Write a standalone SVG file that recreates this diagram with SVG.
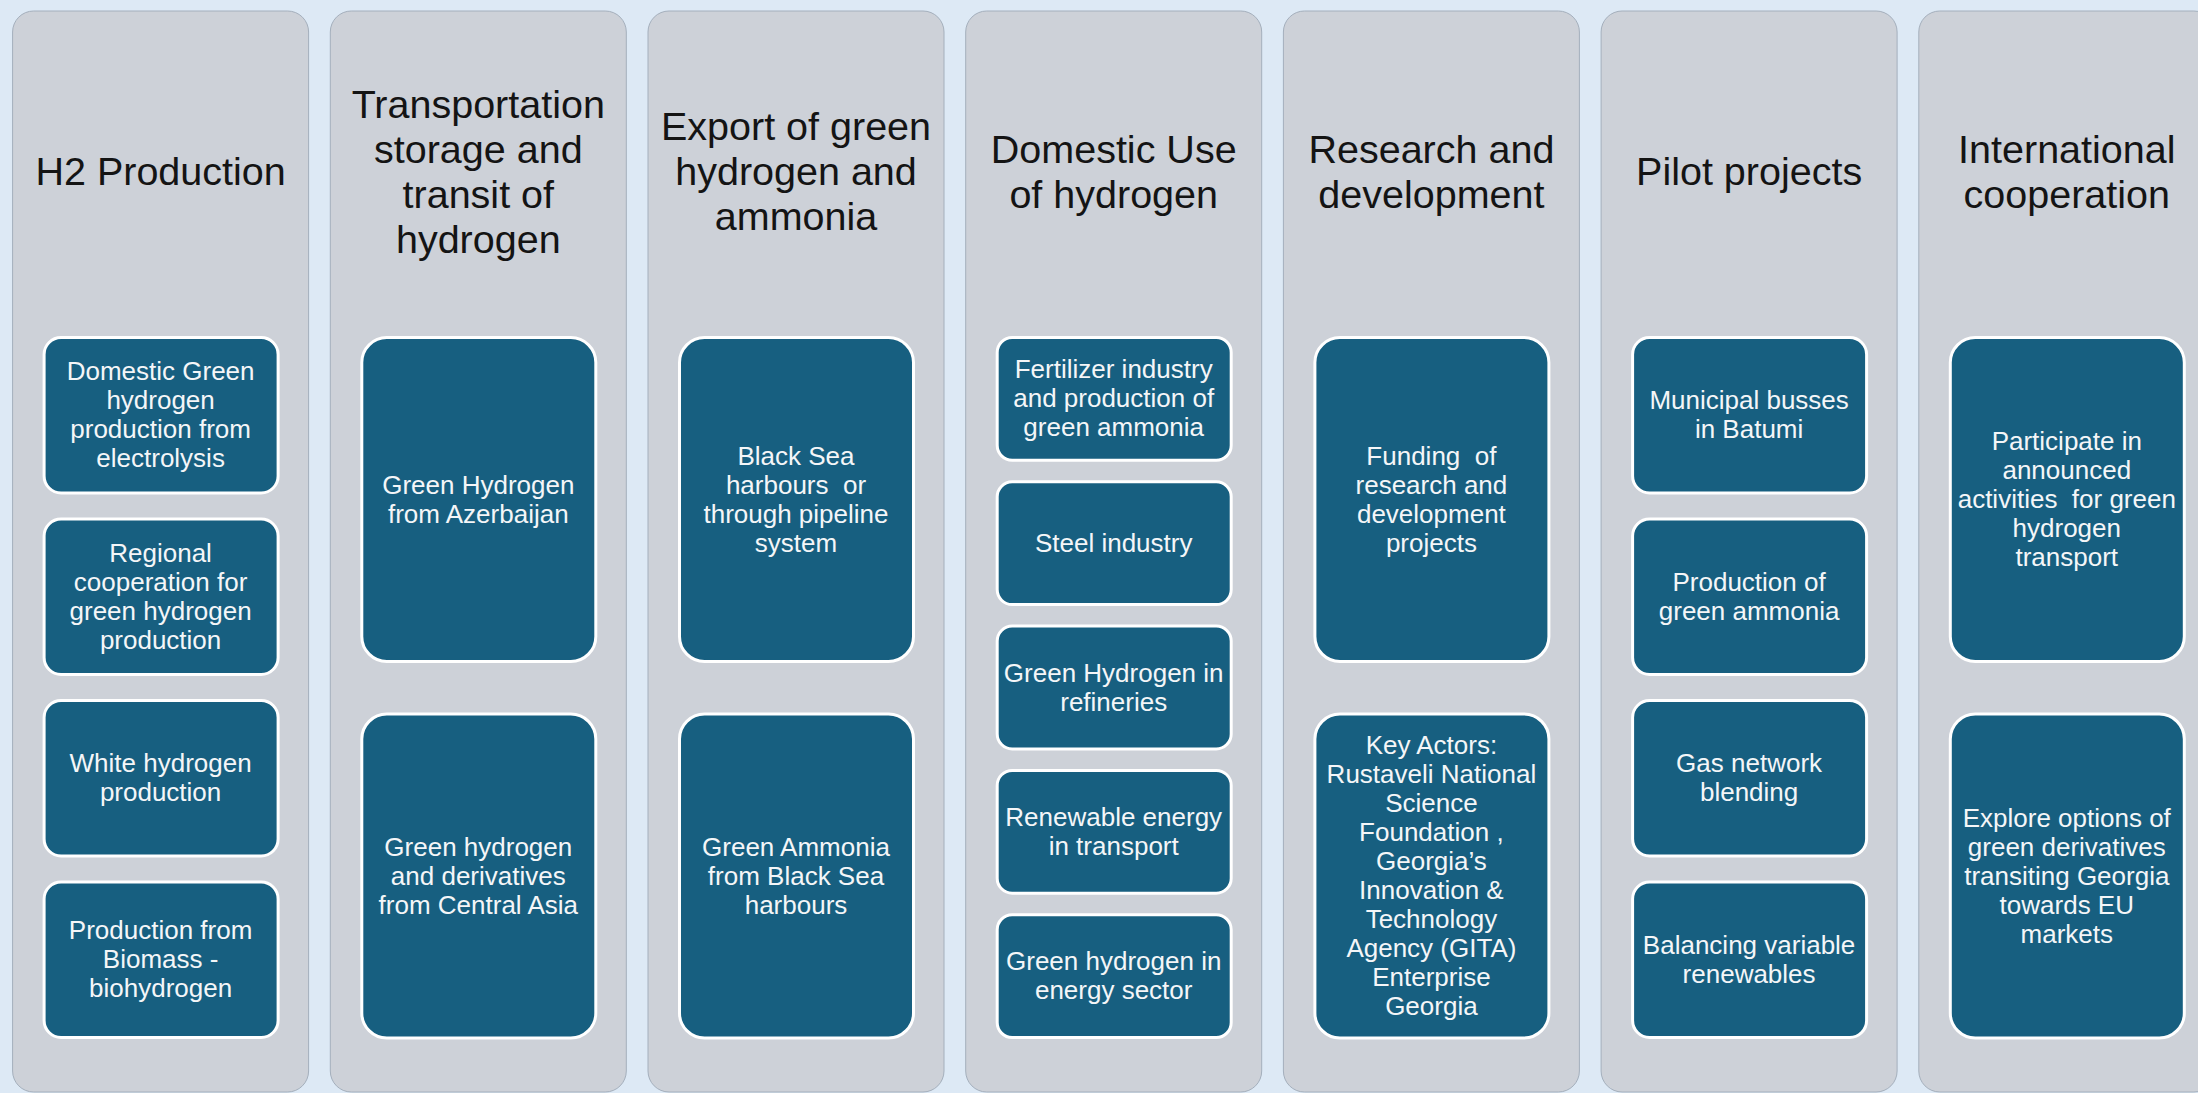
<svg xmlns="http://www.w3.org/2000/svg" width="2198" height="1093" viewBox="0 0 2198 1093">
  <style>
    .bg { fill: #dde9f5; }
    .col { fill: #cdd1d8; stroke: #a4afbc; stroke-width: 1; }
    .box { fill: #175f80; stroke: #ffffff; stroke-width: 3; }
    .head { font-family: "Liberation Sans", Arial, sans-serif; font-size: 39.5px; fill: #141414; text-anchor: middle; }
    .lbl { font-family: "Liberation Sans", Arial, sans-serif; font-size: 26px; fill: #f4f6f8; text-anchor: middle; }
  </style>

  <rect class="bg" x="0" y="0" width="2198" height="1093"/>

  <!-- Column 1: H2 Production -->
  <g id="col-h2-production">
    <rect class="col" x="12.6" y="11" width="296" height="1081" rx="21"/>
    <text class="head" x="160.6" y="185">H2 Production</text>
    <g id="h2-electrolysis">
      <rect class="box" x="44.1" y="337.5" width="234" height="155.5" rx="17"/>
      <text class="lbl" x="160.6" y="380.3"><tspan x="160.6">Domestic Green</tspan><tspan x="160.6" dy="29">hydrogen</tspan><tspan x="160.6" dy="29">production from</tspan><tspan x="160.6" dy="29">electrolysis</tspan></text>
    </g>
    <g id="h2-regional">
      <rect class="box" x="44.1" y="519" width="234" height="155.5" rx="17"/>
      <text class="lbl" x="160.6" y="561.8"><tspan x="160.6">Regional</tspan><tspan x="160.6" dy="29">cooperation for</tspan><tspan x="160.6" dy="29">green hydrogen</tspan><tspan x="160.6" dy="29">production</tspan></text>
    </g>
    <g id="h2-white">
      <rect class="box" x="44.1" y="700.5" width="234" height="155.5" rx="17"/>
      <text class="lbl" x="160.6" y="772.3"><tspan x="160.6">White hydrogen</tspan><tspan x="160.6" dy="29">production</tspan></text>
    </g>
    <g id="h2-biomass">
      <rect class="box" x="44.1" y="882" width="234" height="155.5" rx="17"/>
      <text class="lbl" x="160.6" y="939.3"><tspan x="160.6">Production from</tspan><tspan x="160.6" dy="29">Biomass -</tspan><tspan x="160.6" dy="29">biohydrogen</tspan></text>
    </g>
  </g>

  <!-- Column 2: Transportation, storage and transit -->
  <g id="col-transport">
    <rect class="col" x="330.3" y="11" width="296" height="1081" rx="21"/>
    <text class="head" x="478.3" y="117.5"><tspan x="478.3">Transportation</tspan><tspan x="478.3" dy="45">storage and</tspan><tspan x="478.3" dy="45">transit of</tspan><tspan x="478.3" dy="45">hydrogen</tspan></text>
    <g id="transport-azerbaijan">
      <rect class="box" x="361.8" y="337.5" width="234" height="324" rx="25"/>
      <text class="lbl" x="478.3" y="493.5"><tspan x="478.3">Green Hydrogen</tspan><tspan x="478.3" dy="29">from Azerbaijan</tspan></text>
    </g>
    <g id="transport-central-asia">
      <rect class="box" x="361.8" y="714" width="234" height="324" rx="25"/>
      <text class="lbl" x="478.3" y="855.5"><tspan x="478.3">Green hydrogen</tspan><tspan x="478.3" dy="29">and derivatives</tspan><tspan x="478.3" dy="29">from Central Asia</tspan></text>
    </g>
  </g>

  <!-- Column 3: Export -->
  <g id="col-export">
    <rect class="col" x="648" y="11" width="296" height="1081" rx="21"/>
    <text class="head" x="796" y="140"><tspan x="796">Export of green</tspan><tspan x="796" dy="45">hydrogen and</tspan><tspan x="796" dy="45">ammonia</tspan></text>
    <g id="export-black-sea">
      <rect class="box" x="679.5" y="337.5" width="234" height="324" rx="25"/>
      <text class="lbl" x="796" y="464.5"><tspan x="796">Black Sea</tspan><tspan x="796" dy="29">harbours&#160; or</tspan><tspan x="796" dy="29">through pipeline</tspan><tspan x="796" dy="29">system</tspan></text>
    </g>
    <g id="export-ammonia">
      <rect class="box" x="679.5" y="714" width="234" height="324" rx="25"/>
      <text class="lbl" x="796" y="855.5"><tspan x="796">Green Ammonia</tspan><tspan x="796" dy="29">from Black Sea</tspan><tspan x="796" dy="29">harbours</tspan></text>
    </g>
  </g>

  <!-- Column 4: Domestic use -->
  <g id="col-domestic-use">
    <rect class="col" x="965.7" y="11" width="296" height="1081" rx="21"/>
    <text class="head" x="1113.7" y="162.5"><tspan x="1113.7">Domestic Use</tspan><tspan x="1113.7" dy="45">of hydrogen</tspan></text>
    <g id="use-fertilizer">
      <rect class="box" x="997.2" y="337.5" width="234" height="122.8" rx="15"/>
      <text class="lbl" x="1113.7" y="378.4"><tspan x="1113.7">Fertilizer industry</tspan><tspan x="1113.7" dy="29">and production of</tspan><tspan x="1113.7" dy="29">green ammonia</tspan></text>
    </g>
    <g id="use-steel">
      <rect class="box" x="997.2" y="481.8" width="234" height="122.8" rx="15"/>
      <text class="lbl" x="1113.7" y="551.7">Steel industry</text>
    </g>
    <g id="use-refineries">
      <rect class="box" x="997.2" y="626.1" width="234" height="122.8" rx="15"/>
      <text class="lbl" x="1113.7" y="681.5"><tspan x="1113.7">Green Hydrogen in</tspan><tspan x="1113.7" dy="29">refineries</tspan></text>
    </g>
    <g id="use-transport">
      <rect class="box" x="997.2" y="770.4" width="234" height="122.8" rx="15"/>
      <text class="lbl" x="1113.7" y="825.8"><tspan x="1113.7">Renewable energy</tspan><tspan x="1113.7" dy="29">in transport</tspan></text>
    </g>
    <g id="use-energy">
      <rect class="box" x="997.2" y="914.7" width="234" height="122.8" rx="15"/>
      <text class="lbl" x="1113.7" y="970.1"><tspan x="1113.7">Green hydrogen in</tspan><tspan x="1113.7" dy="29">energy sector</tspan></text>
    </g>
  </g>

  <!-- Column 5: Research and development -->
  <g id="col-research">
    <rect class="col" x="1283.4" y="11" width="296" height="1081" rx="21"/>
    <text class="head" x="1431.4" y="162.5"><tspan x="1431.4">Research and</tspan><tspan x="1431.4" dy="45">development</tspan></text>
    <g id="research-funding">
      <rect class="box" x="1314.9" y="337.5" width="234" height="324" rx="25"/>
      <text class="lbl" x="1431.4" y="464.5"><tspan x="1431.4">Funding&#160; of</tspan><tspan x="1431.4" dy="29">research and</tspan><tspan x="1431.4" dy="29">development</tspan><tspan x="1431.4" dy="29">projects</tspan></text>
    </g>
    <g id="research-actors">
      <rect class="box" x="1314.9" y="714" width="234" height="324" rx="25"/>
      <text class="lbl" x="1431.4" y="754"><tspan x="1431.4">Key Actors:</tspan><tspan x="1431.4" dy="29">Rustaveli National</tspan><tspan x="1431.4" dy="29">Science</tspan><tspan x="1431.4" dy="29">Foundation ,</tspan><tspan x="1431.4" dy="29">Georgia’s</tspan><tspan x="1431.4" dy="29">Innovation &amp;</tspan><tspan x="1431.4" dy="29">Technology</tspan><tspan x="1431.4" dy="29">Agency (GITA)</tspan><tspan x="1431.4" dy="29">Enterprise</tspan><tspan x="1431.4" dy="29">Georgia</tspan></text>
    </g>
  </g>

  <!-- Column 6: Pilot projects -->
  <g id="col-pilot">
    <rect class="col" x="1601.1" y="11" width="296" height="1081" rx="21"/>
    <text class="head" x="1749.1" y="185">Pilot projects</text>
    <g id="pilot-busses">
      <rect class="box" x="1632.6" y="337.5" width="234" height="155.5" rx="17"/>
      <text class="lbl" x="1749.1" y="409.3"><tspan x="1749.1">Municipal busses</tspan><tspan x="1749.1" dy="29">in Batumi</tspan></text>
    </g>
    <g id="pilot-ammonia">
      <rect class="box" x="1632.6" y="519" width="234" height="155.5" rx="17"/>
      <text class="lbl" x="1749.1" y="590.8"><tspan x="1749.1">Production of</tspan><tspan x="1749.1" dy="29">green ammonia</tspan></text>
    </g>
    <g id="pilot-blending">
      <rect class="box" x="1632.6" y="700.5" width="234" height="155.5" rx="17"/>
      <text class="lbl" x="1749.1" y="772.3"><tspan x="1749.1">Gas network</tspan><tspan x="1749.1" dy="29">blending</tspan></text>
    </g>
    <g id="pilot-balancing">
      <rect class="box" x="1632.6" y="882" width="234" height="155.5" rx="17"/>
      <text class="lbl" x="1749.1" y="953.8"><tspan x="1749.1">Balancing variable</tspan><tspan x="1749.1" dy="29">renewables</tspan></text>
    </g>
  </g>

  <!-- Column 7: International cooperation (runs past the right edge) -->
  <g id="col-international">
    <rect class="col" x="1918.8" y="11" width="296" height="1081" rx="21"/>
    <text class="head" x="2066.8" y="162.5"><tspan x="2066.8">International</tspan><tspan x="2066.8" dy="45">cooperation</tspan></text>
    <g id="intl-participate">
      <rect class="box" x="1950.3" y="337.5" width="234" height="324" rx="25"/>
      <text class="lbl" x="2066.8" y="450"><tspan x="2066.8">Participate in</tspan><tspan x="2066.8" dy="29">announced</tspan><tspan x="2066.8" dy="29">activities&#160; for green</tspan><tspan x="2066.8" dy="29">hydrogen</tspan><tspan x="2066.8" dy="29">transport</tspan></text>
    </g>
    <g id="intl-explore">
      <rect class="box" x="1950.3" y="714" width="234" height="324" rx="25"/>
      <text class="lbl" x="2066.8" y="826.5"><tspan x="2066.8">Explore options of</tspan><tspan x="2066.8" dy="29">green derivatives</tspan><tspan x="2066.8" dy="29">transiting Georgia</tspan><tspan x="2066.8" dy="29">towards EU</tspan><tspan x="2066.8" dy="29">markets</tspan></text>
    </g>
  </g>
</svg>
